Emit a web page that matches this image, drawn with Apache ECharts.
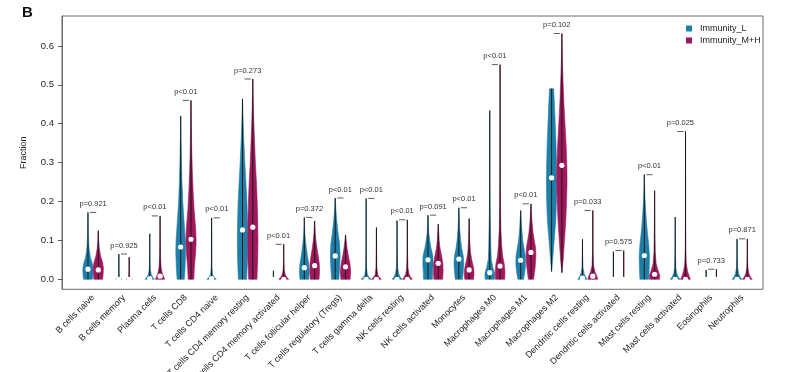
<!DOCTYPE html>
<html><head><meta charset="utf-8">
<script src="https://cdn.jsdelivr.net/npm/echarts@6/dist/echarts.min.js"></script>
<style>html,body{margin:0;padding:0;background:#fff}#c{width:785px;height:372px}</style>
</head><body><div id="c"></div>
<script>
const categories = ['B cells naive','B cells memory','Plasma cells','T cells CD8','T cells CD4 naive','T cells CD4 memory resting','T cells CD4 memory activated','T cells follicular helper','T cells regulatory (Tregs)','T cells gamma delta','NK cells resting','NK cells activated','Monocytes','Macrophages M0','Macrophages M1','Macrophages M2','Dendritic cells resting','Dendritic cells activated','Mast cells resting','Mast cells activated','Eosinophils','Neutrophils'];
const pLabels = ['p=0.921','p=0.925','p<0.01','p<0.01','p<0.01','p=0.273','p<0.01','p=0.372','p<0.01','p<0.01','p<0.01','p=0.091','p<0.01','p<0.01','p<0.01','p=0.102','p=0.033','p=0.575','p<0.01','p=0.025','p=0.733','p=0.871'];
const maxL = [0.172,0.065,0.117,0.42,0.158,0.464,0.022,0.159,0.209,0.208,0.151,0.165,0.184,0.434,0.177,0.49,0.103,0.071,0.269,0.16,0.024,0.104];
const maxH = [0.125,0.057,0.163,0.46,0.0,0.515,0.09,0.15,0.114,0.133,0.153,0.142,0.156,0.552,0.194,0.632,0.177,0.074,0.228,0.38,0.026,0.104];
const minL = [0,0,0,0,0,0,0,0,0,0,0,0,0,0,0,0.02,0,0,0,0,0,0];
const minH = [0,0,0,0,0,0,0,0,0,0,0,0,0,0,0,0.017,0,0,0,0,0,0];
const medianL = [0.026,0,0.002,0.083,0.002,0.127,0,0.03,0.06,0,0,0.05,0.052,0.017,0.049,0.261,0.003,0,0.061,0,0,0];
const medianH = [0.024,0,0.008,0.103,0,0.134,0,0.035,0.032,0,0,0.041,0.024,0.034,0.069,0.293,0.008,0,0.013,0,0,0];
// violin outlines: [fraction, relative half-width]
const shapeL = [
 [[0,0.85],[0.01,0.95],[0.025,1],[0.04,0.85],[0.055,0.5],[0.07,0.3],[0.09,0.15],[0.12,0.06],[0.172,0]],
 [[0,0.6],[0.003,0.25],[0.008,0.08],[0.02,0.03],[0.065,0]],
 [[0,0.9],[0.005,0.6],[0.012,0.3],[0.025,0.1],[0.05,0.04],[0.117,0]],
 [[0,0.7],[0.03,0.85],[0.07,0.95],[0.1,0.9],[0.15,0.65],[0.2,0.4],[0.25,0.25],[0.3,0.15],[0.35,0.08],[0.42,0]],
 [[0,0.9],[0.005,0.5],[0.012,0.2],[0.03,0.06],[0.158,0]],
 [[0,0.8],[0.05,0.95],[0.1,1],[0.15,0.95],[0.2,0.85],[0.25,0.65],[0.3,0.45],[0.35,0.28],[0.4,0.14],[0.464,0]],
 [[0,0.3],[0.002,0.05],[0.022,0]],
 [[0,0.85],[0.02,0.95],[0.04,0.85],[0.06,0.6],[0.08,0.4],[0.1,0.22],[0.12,0.1],[0.159,0]],
 [[0,0.7],[0.03,0.85],[0.06,0.95],[0.09,0.85],[0.12,0.55],[0.15,0.3],[0.18,0.12],[0.209,0]],
 [[0,0.95],[0.005,0.55],[0.012,0.25],[0.03,0.08],[0.08,0.03],[0.208,0]],
 [[0,0.95],[0.006,0.6],[0.015,0.3],[0.03,0.12],[0.07,0.04],[0.151,0]],
 [[0,0.85],[0.02,0.9],[0.04,1],[0.06,0.95],[0.08,0.6],[0.1,0.35],[0.12,0.15],[0.165,0]],
 [[0,0.7],[0.02,0.85],[0.04,0.95],[0.06,0.85],[0.08,0.55],[0.1,0.35],[0.13,0.15],[0.184,0]],
 [[0,0.9],[0.015,0.95],[0.03,0.6],[0.05,0.3],[0.08,0.2],[0.12,0.15],[0.16,0.08],[0.25,0.03],[0.434,0]],
 [[0,0.55],[0.02,0.8],[0.04,0.95],[0.06,0.9],[0.08,0.65],[0.1,0.4],[0.13,0.2],[0.177,0]],
 [[0.02,0],[0.05,0.2],[0.1,0.5],[0.15,0.8],[0.2,0.95],[0.25,1],[0.3,0.95],[0.35,0.85],[0.4,0.7],[0.45,0.55],[0.49,0.4]],
 [[0,0.9],[0.006,0.6],[0.015,0.3],[0.03,0.1],[0.06,0.03],[0.103,0]],
 [[0,0.3],[0.002,0.03],[0.071,0]],
 [[0,0.85],[0.03,0.95],[0.06,1],[0.09,0.85],[0.12,0.6],[0.15,0.4],[0.18,0.25],[0.21,0.12],[0.269,0]],
 [[0,0.95],[0.006,0.6],[0.015,0.3],[0.03,0.12],[0.07,0.04],[0.16,0]],
 [[0,0.3],[0.002,0.03],[0.024,0]],
 [[0,0.95],[0.006,0.6],[0.015,0.3],[0.03,0.1],[0.06,0.03],[0.104,0]]
];
const shapeH = [
 [[0,0.85],[0.015,0.95],[0.03,1],[0.045,0.8],[0.06,0.45],[0.08,0.2],[0.1,0.08],[0.125,0]],
 [[0,0.6],[0.003,0.25],[0.008,0.08],[0.02,0.03],[0.057,0]],
 [[0,0.9],[0.006,0.7],[0.015,0.45],[0.03,0.2],[0.06,0.08],[0.1,0.03],[0.163,0]],
 [[0,0.55],[0.03,0.65],[0.07,0.9],[0.1,1],[0.13,0.9],[0.18,0.6],[0.23,0.4],[0.28,0.25],[0.33,0.15],[0.4,0.06],[0.46,0]],
 [[0,0.3],[0.002,0]],
 [[0,0.8],[0.05,0.95],[0.1,1],[0.15,0.95],[0.2,0.85],[0.25,0.7],[0.3,0.5],[0.35,0.35],[0.4,0.2],[0.45,0.1],[0.515,0]],
 [[0,0.95],[0.005,0.6],[0.012,0.3],[0.025,0.1],[0.05,0.03],[0.09,0]],
 [[0,0.85],[0.02,0.95],[0.04,0.9],[0.06,0.7],[0.08,0.45],[0.1,0.25],[0.12,0.12],[0.15,0]],
 [[0,0.9],[0.02,1],[0.04,0.85],[0.06,0.55],[0.08,0.3],[0.1,0.12],[0.114,0]],
 [[0,0.95],[0.005,0.55],[0.012,0.25],[0.03,0.08],[0.07,0.03],[0.133,0]],
 [[0,0.95],[0.006,0.6],[0.015,0.3],[0.03,0.12],[0.07,0.04],[0.153,0]],
 [[0,0.85],[0.02,0.95],[0.04,0.9],[0.06,0.65],[0.08,0.35],[0.1,0.18],[0.142,0]],
 [[0,0.85],[0.015,0.95],[0.03,0.85],[0.05,0.5],[0.07,0.25],[0.1,0.1],[0.156,0]],
 [[0,0.9],[0.02,0.95],[0.04,0.8],[0.06,0.5],[0.09,0.3],[0.13,0.15],[0.2,0.06],[0.3,0.02],[0.552,0]],
 [[0,0.5],[0.03,0.8],[0.06,0.95],[0.08,0.9],[0.1,0.65],[0.12,0.4],[0.15,0.18],[0.194,0]],
 [[0.017,0],[0.05,0.25],[0.1,0.5],[0.15,0.75],[0.2,0.9],[0.25,1],[0.3,0.95],[0.35,0.8],[0.4,0.6],[0.45,0.4],[0.5,0.25],[0.55,0.12],[0.632,0]],
 [[0,0.95],[0.008,0.8],[0.018,0.45],[0.035,0.15],[0.07,0.04],[0.177,0]],
 [[0,0.3],[0.002,0.03],[0.074,0]],
 [[0,0.95],[0.01,1],[0.025,0.6],[0.04,0.3],[0.07,0.12],[0.12,0.05],[0.228,0]],
 [[0,0.95],[0.008,0.7],[0.02,0.4],[0.04,0.15],[0.08,0.05],[0.15,0.02],[0.38,0]],
 [[0,0.3],[0.002,0.03],[0.026,0]],
 [[0,0.95],[0.006,0.6],[0.015,0.3],[0.03,0.1],[0.06,0.03],[0.104,0]]
];
const yTicks = [0, 0.1, 0.2, 0.3, 0.4, 0.5, 0.6];
const groupNames = ['Immunity_L', 'Immunity_M+H'];

const COLOR_L = '#1e7fa8', COLOR_H = '#a0175c';
const FONT = 'Liberation Sans, Arial, sans-serif';
const labelPos = categories.map((c, i) => 3 * i + 0.5);

function violinRender(shapes, mins, maxs, meds, offset, color) {
  return function (params, api) {
    const i = api.value(0);
    const cx = 3 * i + offset;
    const knots = shapes[i];
    const right = knots.map(k => api.coord([cx + 0.5 * k[1], k[0]]));
    const left = knots.slice().reverse().map(k => api.coord([cx - 0.5 * k[1], k[0]]));
    const children = [];
    children.push({ type: 'polygon', shape: { points: right.concat(left) },
      style: { fill: color, stroke: color, lineWidth: 0.6 } });
    if (maxs[i] > mins[i]) {
      const a = api.coord([cx, mins[i]]), b = api.coord([cx, maxs[i]]);
      children.push({ type: 'line', shape: { x1: a[0], y1: a[1], x2: b[0], y2: b[1] },
        style: { stroke: '#1a1a1a', lineWidth: 1 } });
    }
    const m = api.coord([cx, meds[i]]);
    children.push({ type: 'circle', shape: { cx: m[0], cy: m[1], r: 2.6 }, style: { fill: '#ffffff' } });
    return { type: 'group', children };
  };
}

function pRender(params, api) {
  const i = api.value(0);
  const mx = Math.max(maxL[i], maxH[i]);
  const a = api.coord([3 * i + 0.2, mx]), b = api.coord([3 * i + 0.8, mx]);
  const t = api.coord([3 * i + 0.5, mx + 0.022]);
  return { type: 'group', children: [
    { type: 'line', shape: { x1: a[0], y1: a[1], x2: b[0], y2: b[1] }, style: { stroke: '#333', lineWidth: 0.8 } },
    { type: 'text', style: { text: pLabels[i], x: t[0], y: t[1], align: 'center', verticalAlign: 'middle',
      fontSize: 7.5, fontFamily: FONT, fill: '#333' } }
  ] };
}

const idx = categories.map((c, i) => [i]);
const chart = echarts.init(document.getElementById('c'));
chart.setOption({
  animation: false,
  backgroundColor: '#fff',
  graphic: [{ type: 'text', left: 22, top: 5, style: { text: 'B', font: 'bold 15px ' + FONT, fill: '#111' } }],
  legend: {
    data: groupNames, orient: 'vertical', left: 681, top: 19, icon: 'rect',
    itemWidth: 6, itemHeight: 6, itemGap: 3,
    textStyle: { fontSize: 9, fontFamily: FONT, color: '#222', padding: [0, 0, 0, 3] }
  },
  grid: { left: 62, right: 22, top: 16, height: 273.3, show: true, borderColor: '#6b6b6b', borderWidth: 1,
    containLabel: false, outerBoundsMode: 'none' },
  xAxis: {
    type: 'value', min: -2.52, max: 65.52,
    axisLine: { show: false, onZero: false }, axisTick: { show: false }, splitLine: { show: false },
    axisLabel: {
      customValues: labelPos, rotate: 45, fontSize: 9, fontFamily: FONT, color: '#222', margin: 7,
      formatter: v => categories[Math.round((v - 0.5) / 3)]
    }
  },
  yAxis: {
    type: 'value', min: -0.0257, max: 0.677,
    name: 'Fraction', nameLocation: 'middle', nameGap: 34,
    nameTextStyle: { fontSize: 9, fontFamily: FONT, color: '#222' },
    axisLine: { show: true, onZero: false, lineStyle: { color: '#6b6b6b' } },
    axisTick: { show: true, customValues: yTicks, length: 4, lineStyle: { color: '#555' } },
    axisLabel: { customValues: yTicks, formatter: v => v.toFixed(1), fontSize: 9.5, fontFamily: FONT, color: '#222', margin: 8 },
    splitLine: { show: false }
  },
  series: [
    { name: groupNames[0], type: 'custom', itemStyle: { color: COLOR_L }, data: idx,
      renderItem: violinRender(shapeL, minL, maxL, medianL, 0, COLOR_L) },
    { name: groupNames[1], type: 'custom', itemStyle: { color: COLOR_H }, data: idx,
      renderItem: violinRender(shapeH, minH, maxH, medianH, 1, COLOR_H) },
    { name: 'pvalues', type: 'custom', data: idx, renderItem: pRender, silent: true }
  ]
});
</script></body></html>
